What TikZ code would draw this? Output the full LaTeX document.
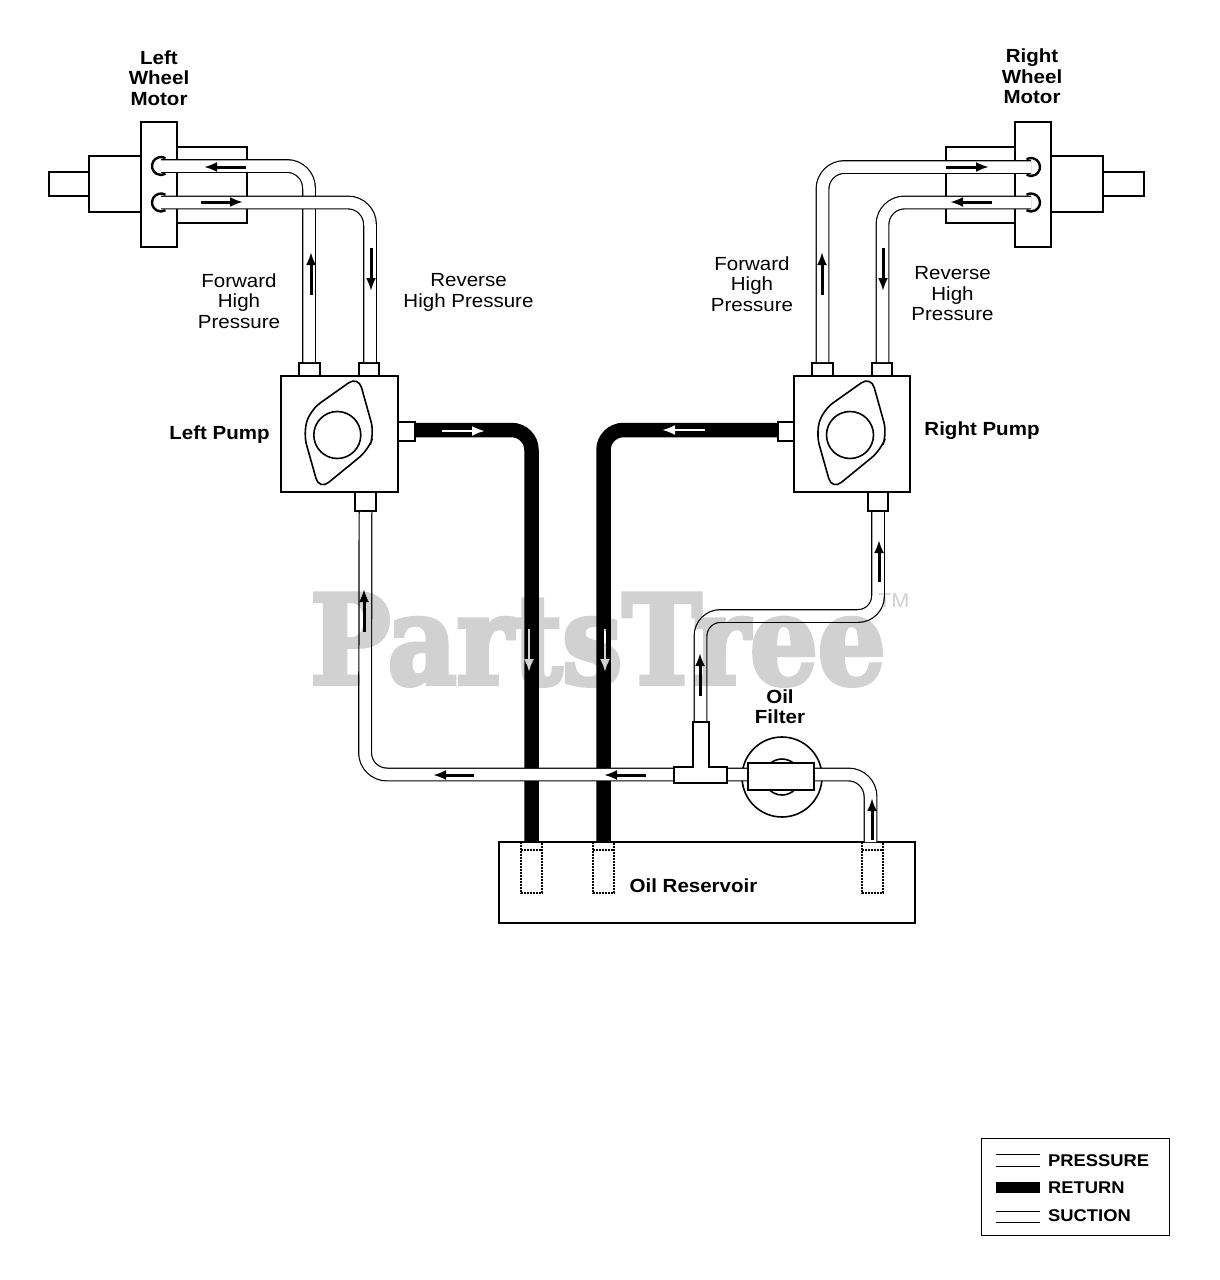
\documentclass[tikz,border=0pt]{standalone}
\usepackage{fontspec}
\setmainfont[FakeStretch=1.08]{Liberation Sans}
\newfontfamily\markfont[FakeStretch=0.86,FakeBold=3.5]{DejaVu Serif}
\usetikzlibrary{calc,positioning,arrows.meta}
\definecolor{markgrey}{gray}{0.82}

\begin{document}
\begin{tikzpicture}[x=1pt,y=-1pt,font=\fontsize{19}{20.5}\selectfont]

\tikzset{partnode/.style={draw=black,fill=white,line width=2pt,inner sep=0pt,shape=rectangle},
oilpipe/.style={draw=black,double=white,double distance=11.5pt,line width=1.2pt,rounded corners=22pt},
returnpipe/.style={draw=black,line width=14.5pt,rounded corners=20pt},
blackarrow/.style={black,line width=3pt,-{Latex[length=13pt,width=10pt]}},
whitearrow/.style={white,line width=2.5pt,-{Latex[length=13pt,width=10pt]}},
camline/.style={black,line width=1.6pt,rounded corners=12pt},
tubeline/.style={black,line width=2pt,densely dotted},
boldlabel/.style={font=\fontsize{19}{20.5}\selectfont\bfseries,align=center,inner sep=0pt},
plainlabel/.style={align=center,inner sep=0pt},
keylabel/.style={font=\fontsize{17}{20}\selectfont\bfseries,anchor=west,inner sep=0pt}}

% Page
\fill[white] (0,0) rectangle (1219,1280);
\useasboundingbox (0,0) rectangle (1219,1280);

% Left motor
\node[partnode,minimum width=40pt,minimum height=24pt] (lshaft) at (69,184) {};
\node[partnode,minimum width=52pt,minimum height=56pt] (lfront) at (115,184) {};
\node[partnode,minimum width=70pt,minimum height=76pt] (lback) at (212,185) {};
\node[partnode,minimum width=36pt,minimum height=125pt] (lflange) at (159,184.5) {};

% Right motor
\node[partnode,minimum width=41pt,minimum height=24pt] (rshaft) at (1123.5,184) {};
\node[partnode,minimum width=52pt,minimum height=56pt] (rfront) at (1077,184) {};
\node[partnode,minimum width=69pt,minimum height=76pt] (rback) at (980.5,185) {};
\node[partnode,minimum width=36pt,minimum height=125pt] (rflange) at (1033,184.5) {};

% Pumps
\node[partnode,minimum width=117pt,minimum height=116pt] (lpump) at (339.5,434) {};
\node[partnode,minimum width=116pt,minimum height=116pt] (rpump) at (852,434) {};
\coordinate (lcam) at (337.3,435);
\coordinate (rcam) at (850,435);
\foreach \c in {lcam,rcam} \draw[camline,shift={(\c)}] (21,-59) -- (37,-1.7) -- (31,15) -- (-18,55) -- (-34,-1.7) -- (-27,-25) -- cycle;
\node[circle,draw,line width=1.6pt,inner sep=0pt,minimum size=47pt] (lring) at (lcam) {};
\node[circle,draw,line width=1.6pt,inner sep=0pt,minimum size=47pt] (rring) at (rcam) {};

% Ports
\node[partnode,minimum width=21pt,minimum height=13pt] (lportf) at (309.5,369.5) {};
\node[partnode,minimum width=20pt,minimum height=13pt] (lportr) at (369,369.5) {};
\node[partnode,minimum width=17pt,minimum height=19pt] (lportout) at (406.5,431.5) {};
\node[partnode,minimum width=21pt,minimum height=19pt] (lportin) at (365.5,501.5) {};
\node[partnode,minimum width=21pt,minimum height=13pt] (rportf) at (822.5,369.5) {};
\node[partnode,minimum width=20pt,minimum height=13pt] (rportr) at (882,369.5) {};
\node[partnode,minimum width=16pt,minimum height=19pt] (rportout) at (786,431.5) {};
\node[partnode,minimum width=20pt,minimum height=19pt] (rportin) at (878,501.5) {};

% Reservoir
\node[partnode,line width=2.5pt,minimum width=416pt,minimum height=81pt] (tank) at (707,882.5) {};
\foreach \x in {521,593,862} {
  \draw[tubeline] (\x,842) -- (\x,893) -- (\x+21,893) -- (\x+21,842);
  \draw[tubeline] (\x,850) -- (\x+21,850);
}

% Return lines
\coordinate (lret) at (531.5,430);
\coordinate (ltank) at (531.5,842);
\coordinate (rret) at (603.5,430);
\coordinate (rtank) at (603.5,842);
\draw[returnpipe] (lportout.east |- lret) -- (lret) -- (ltank);
\draw[returnpipe] (rportout.west |- rret) -- (rret) -- (rtank);

% Oil filter
\node[circle,draw,line width=1.6pt,inner sep=0pt,minimum size=80pt] (fdisc) at (782,777) {};
\node[circle,draw,line width=1.6pt,inner sep=0pt,minimum size=36pt] (fhub) at (782,777) {};

% Pressure lines
\coordinate (lmf) at (161,166);
\coordinate (lbf) at (309,166);
\coordinate (lmr) at (161,202.5);
\coordinate (lbr) at (370,202.5);
\coordinate (rmf) at (1031,167);
\coordinate (rbf) at (822.5,167);
\coordinate (rmr) at (1031,202.5);
\coordinate (rbr) at (882.5,202.5);
\draw[oilpipe] (lmf) -- (lbf) -- (lbf |- lportf.north);
\draw[oilpipe] (lmr) -- (lbr) -- (lbr |- lportr.north);
\draw[oilpipe] (rmf) -- (rbf) -- (rbf |- rportf.north);
\draw[oilpipe] (rmr) -- (rbr) -- (rbr |- rportr.north);
\foreach \c in {lmf,lmr} \draw[black,line width=2.4pt] ($(\c)+(4.5,-7.8)$) arc[start angle=60,end angle=300,radius=9pt];
\foreach \c in {rmf,rmr} \draw[black,line width=2.4pt] ($(\c)+(-4.5,-7.8)$) arc[start angle=120,end angle=-120,radius=9pt];

% Suction lines
\coordinate (teeL) at (674,774.5);
\coordinate (teeT) at (700.5,722);
\coordinate (teeR) at (727,774.5);
\coordinate (lsuc) at (365,774.5);
\coordinate (sb1) at (700.5,616);
\coordinate (sb2) at (878,616);
\coordinate (fb) at (870.5,774.5);
\coordinate (ftank) at (870.5,842);
\draw[oilpipe] (teeL) -- (lsuc) -- (lportin.south);
\draw[oilpipe,rounded corners=20pt] (teeT) -- (sb1) -- (sb2) -- (rportin.south);
\draw[oilpipe] (teeR) -- (fb) -- (ftank);

% Tee and filter body
\draw[draw=black,fill=white,line width=1.2pt] (674,767) -- (693,767) -- (693,722) -- (709,722) -- (709,767) -- (727,767) -- (727,783) -- (674,783) -- cycle;
\node[partnode,minimum width=66pt,minimum height=27pt] (fbody) at (781,776.5) {};

% Flow arrows
\draw[blackarrow] (246,167) -- (204,167);
\draw[blackarrow] (201,202) -- (243,202);
\draw[blackarrow] (311,295) -- (311,252);
\draw[blackarrow] (371,248) -- (371,291);
\draw[blackarrow] (946,167) -- (989,167);
\draw[blackarrow] (992,202) -- (950,202);
\draw[blackarrow] (822,295) -- (822,252);
\draw[blackarrow] (883,248) -- (883,291);
\draw[blackarrow] (364,632) -- (364,589);
\draw[blackarrow] (474,775) -- (433,775);
\draw[blackarrow] (646,775) -- (604,775);
\draw[blackarrow] (879,582) -- (879,540);
\draw[blackarrow] (700,696) -- (700,653);
\draw[blackarrow] (872,840) -- (872,798);
\draw[whitearrow] (442,431) -- (485,431);
\draw[whitearrow] (705,430) -- (662,430);
\draw[whitearrow] (529,629) -- (529,672);
\draw[whitearrow] (605,629) -- (605,672);

% Labels
\node[boldlabel] (lmotor) at (159,78) {Left\\Wheel\\Motor};
\node[boldlabel] (rmotor) at (1032,76.5) {Right\\Wheel\\Motor};
\node[plainlabel] (lforward) at (239,301) {Forward\\High\\Pressure};
\node[plainlabel] (lreverse) at (468.5,292.5) {Reverse\\High Pressure};
\node[plainlabel] (rforward) at (752,284) {Forward\\High\\Pressure};
\node[plainlabel] (rreverse) at (952.5,294) {Reverse\\High\\Pressure};
\node[boldlabel] (lname) at (219.5,434.5) {Left Pump};
\node[boldlabel] (rname) at (982,430.5) {Right Pump};
\node[boldlabel] (fname) at (780,706.5) {Oil\\Filter};
\node[boldlabel] (tname) at (693.5,885.5) {Oil Reservoir};

% Key
\node[draw,line width=1pt,inner sep=0pt,minimum width=188pt,minimum height=97pt] (keybox) at (1075,1186.5) {};
\foreach \y in {1154,1166,1211,1222} \draw[black,line width=1pt] (996,\y) -- (1040,\y);
\draw[black,line width=11pt] (996,1187.5) -- (1040,1187.5);
\node[keylabel] (kpressure) at (1048,1160.5) {PRESSURE};
\node[keylabel] (kreturn) at (1048,1188) {RETURN};
\node[keylabel] (ksuction) at (1048,1216) {SUCTION};

% Watermark
\begin{scope}[transparency group,blend mode=multiply]
\node[markgrey,font=\fontsize{124}{124}\selectfont\markfont\bfseries,anchor=base west,inner sep=0pt] (wmark) at (310,684) {PartsTree};
\node[markgrey,font=\fontsize{20}{20}\selectfont,anchor=base west,inner sep=0pt] (wtm) at (878,607) {TM};
\end{scope}

\end{tikzpicture}
\end{document}
